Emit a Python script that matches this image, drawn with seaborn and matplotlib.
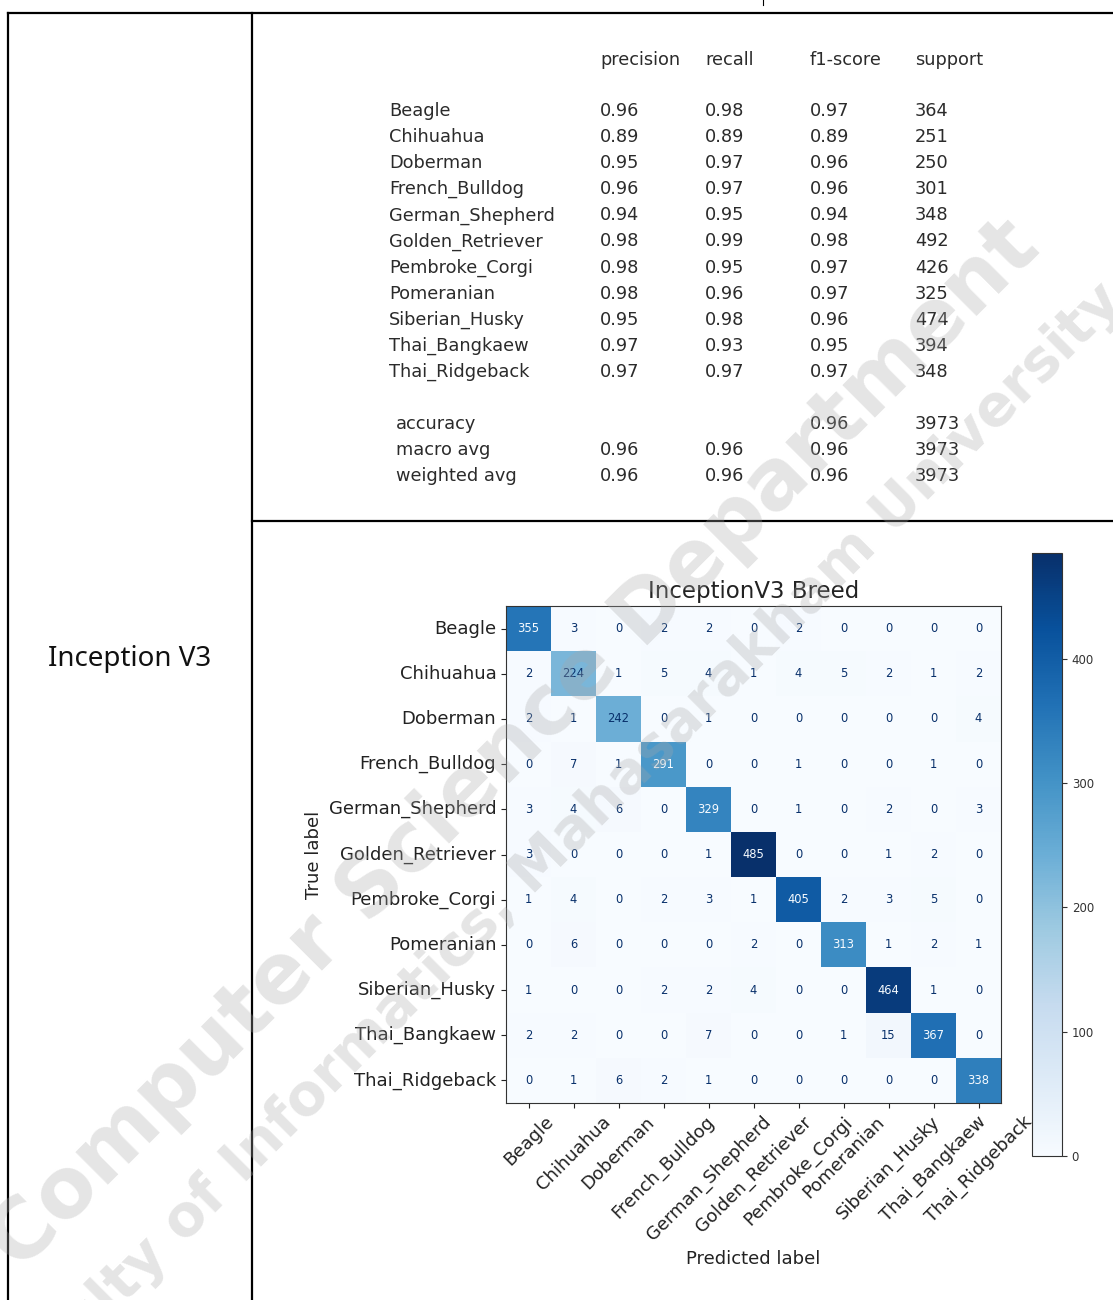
"""
Inception V3 result cell: classification report + confusion matrix heatmap
"""
import numpy as np
import pandas as pd
import matplotlib
matplotlib.use("Agg")
import matplotlib.pyplot as plt
import seaborn as sns
from matplotlib.lines import Line2D

# ── data ────────────────────────────────────────────────────────────────
classes = [
    "Beagle", "Chihuahua", "Doberman", "French_Bulldog", "German_Shepherd",
    "Golden_Retriever", "Pembroke_Corgi", "Pomeranian", "Siberian_Husky",
    "Thai_Bangkaew", "Thai_Ridgeback",
]
precision = ["0.96", "0.89", "0.95", "0.96", "0.94", "0.98", "0.98", "0.98", "0.95", "0.97", "0.97"]
recall = ["0.98", "0.89", "0.97", "0.97", "0.95", "0.99", "0.95", "0.96", "0.98", "0.93", "0.97"]
f1_score = ["0.97", "0.89", "0.96", "0.96", "0.94", "0.98", "0.97", "0.97", "0.96", "0.95", "0.97"]
support = ["364", "251", "250", "301", "348", "492", "426", "325", "474", "394", "348"]

summary_names = ["accuracy", "macro avg", "weighted avg"]
summary_precision = ["", "0.96", "0.96"]
summary_recall = ["", "0.96", "0.96"]
summary_f1 = ["0.96", "0.96", "0.96"]
summary_support = ["3973", "3973", "3973"]

cm_rows = [
    [355, 3, 0, 2, 2, 0, 2, 0, 0, 0, 0],
    [2, 224, 1, 5, 4, 1, 4, 5, 2, 1, 2],
    [2, 1, 242, 0, 1, 0, 0, 0, 0, 0, 4],
    [0, 7, 1, 291, 0, 0, 1, 0, 0, 1, 0],
    [3, 4, 6, 0, 329, 0, 1, 0, 2, 0, 3],
    [3, 0, 0, 0, 1, 485, 0, 0, 1, 2, 0],
    [1, 4, 0, 2, 3, 1, 405, 2, 3, 5, 0],
    [0, 6, 0, 0, 0, 2, 0, 313, 1, 2, 1],
    [1, 0, 0, 2, 2, 4, 0, 0, 464, 1, 0],
    [2, 2, 0, 0, 7, 0, 0, 1, 15, 367, 0],
    [0, 1, 6, 2, 1, 0, 0, 0, 0, 0, 338],
]

# ── figure / page layout ────────────────────────────────────────────────
W, H = 1113, 1300
fig = plt.figure(figsize=(W / 100, H / 100), dpi=100)
fig.patch.set_facecolor("white")


def fx(x):
    return x / W


def fy(y):
    return 1 - y / H


def page_line(x0, y0, x1, y1, lw=1.6):
    fig.add_artist(Line2D([fx(x0), fx(x1)], [fy(y0), fy(y1)], color="black",
                          lw=lw, transform=fig.transFigure))


# table borders
page_line(8, 13, W, 13)
page_line(8, 13, 8, H)
page_line(252, 13, 252, H)
page_line(252, 521, W, 521)
page_line(763, 0, 763, 5, lw=0.8)

fig.text(fx(130), fy(659), "Inception V3", fontsize=20, family="Noto Sans",
         ha="center", va="center", color="#111111")

# ── classification report (text block) ─────────────────────────────────
txt_kw = dict(fontsize=12.8, family="DejaVu Sans", color="#2b2b2b", va="center", ha="left")
col_x = [600, 705, 810, 915]
for x, head in zip(col_x, ["precision", "recall", "f1-score", "support"]):
    fig.text(fx(x), fy(60), head, **txt_kw)

row_y0, row_dy = 111, 26.1
for i, name in enumerate(classes):
    y = row_y0 + i * row_dy
    fig.text(fx(389), fy(y), name, **txt_kw)
    for x, val in zip(col_x, [precision[i], recall[i], f1_score[i], support[i]]):
        fig.text(fx(x), fy(y), val, **txt_kw)

for i, name in enumerate(summary_names):
    y = 424 + i * 26
    fig.text(fx(396), fy(y), name, **txt_kw)
    for x, val in zip(col_x, [summary_precision[i], summary_recall[i], summary_f1[i], summary_support[i]]):
        if val:
            fig.text(fx(x), fy(y), val, **txt_kw)

# ── confusion matrix ───────────────────────────────────────────────────
cm_df = pd.DataFrame(cm_rows, index=classes, columns=classes)
vmax = cm_df.values.max()

ax = fig.add_axes([fx(506), fy(1103), (1001 - 506) / W, (1103 - 606) / H])
cax = fig.add_axes([fx(1032), fy(1156), 30 / W, (1156 - 553) / H])

sns.heatmap(cm_df, cmap="Blues", vmin=0, vmax=vmax, annot=True, fmt="d",
            annot_kws={"fontsize": 8.3}, cbar_ax=cax, ax=ax)

# sklearn-style annotation colours (dark text on light cells, light on dark)
thresh = vmax / 2.0
for t, v in zip(ax.texts, cm_df.values.flatten()):
    t.set_color("#f7fbff" if v > thresh else "#08306b")

for s in ax.spines.values():
    s.set_visible(True)
    s.set_linewidth(0.8)
    s.set_color("#333333")

ax.tick_params(axis="both", length=3.5, width=0.8, labelsize=13, colors="#222222",
               bottom=True, left=True)
ax.set_yticklabels(classes, rotation=0)
ax.set_xticklabels(classes, rotation=45, ha="center")
ax.set_xlabel("Predicted label", fontsize=13, color="#222222")
ax.set_ylabel("True label", fontsize=13, color="#222222")
ax.set_title("InceptionV3 Breed", fontsize=16.5, color="#222222")

cbar = ax.collections[0].colorbar
cbar.set_ticks([0, 100, 200, 300, 400])
cbar.ax.tick_params(labelsize=8.5, length=3.5, width=0.8, colors="#333333")
cbar.outline.set_linewidth(0.8)
cbar.outline.set_edgecolor("#333333")

# ── watermark ──────────────────────────────────────────────────────────
wm_kw = dict(color="#a8a8a8", alpha=0.3, fontweight="bold", family="DejaVu Sans",
             ha="center", va="center", rotation=45, rotation_mode="anchor", zorder=10)
fig.text(fx(515), fy(745), "Computer Science Department", fontsize=60, **wm_kw)
fig.text(fx(554), fy(852), "Faculty of Informatics, Mahasarakham University", fontsize=41, **wm_kw)

fig.savefig("out.png", dpi=100)
plt.close(fig)
